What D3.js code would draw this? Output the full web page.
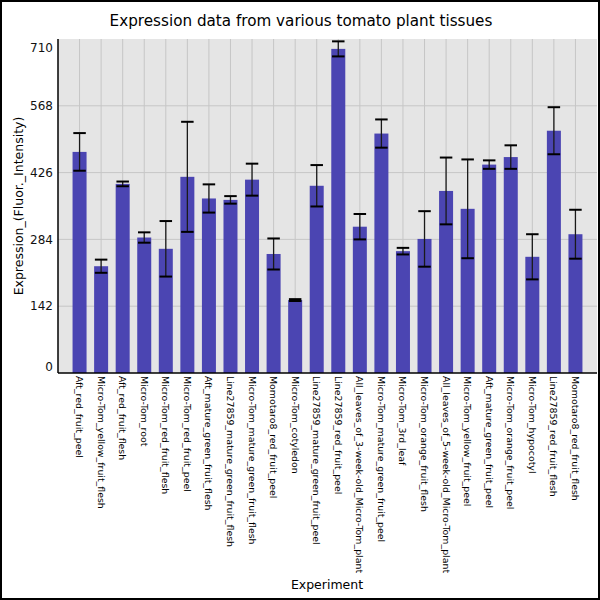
<!DOCTYPE html>
<html>
<head>
<meta charset="utf-8">
<script src="https://cdn.jsdelivr.net/npm/d3@7"></script>
<style>
  body { margin: 0; background: #fff; }
  svg { display: block; font-family: "DejaVu Sans", sans-serif; }
</style>
</head>
<body>
<svg id="chart" width="600" height="600"></svg>
<script>
const experiments = [
  "Aft_red_fruit_peel", "Micro-Tom_yellow_fruit_flesh", "Aft_red_fruit_flesh",
  "Micro-Tom_root", "Micro-Tom_red_fruit_flesh", "Micro-Tom_red_fruit_peel",
  "Aft_mature_green_fruit_flesh", "Line27859_mature_green_fruit_flesh",
  "Micro-Tom_mature_green_fruit_flesh", "Momotaro8_red_fruit_peel",
  "Micro-Tom_cotyledon", "Line27859_mature_green_fruit_peel", "Line27859_red_fruit_peel",
  "All_leaves_of_3-week-old_Micro-Tom_plant", "Micro-Tom_mature_green_fruit_peel",
  "Micro-Tom_3rd_leaf", "Micro-Tom_orange_fruit_flesh",
  "All_leaves_of_5-week-old_Micro-Tom_plant", "Micro-Tom_yellow_fruit_peel",
  "Aft_mature_green_fruit_peel", "Micro-Tom_orange_fruit_peel", "Micro-Tom_hypocotyl",
  "Line27859_red_fruit_flesh", "Momotaro8_red_fruit_flesh"
];
const expression = [470, 227, 402, 288, 264, 417, 371, 368, 411, 253,
  155, 398, 689, 311, 509, 259, 285, 387, 349, 443, 459, 247, 515, 295];
const errors = [40, 14, 5, 11, 59, 117, 30, 8, 34, 33,
  2, 44, 16, 27, 30, 7, 59, 71, 105, 9, 25, 48, 50, 52];
const yTicks = [0, 142, 284, 426, 568, 710];

const svg = d3.select("#chart");
const W = 600, H = 600;

// outer frame
svg.append("rect").attr("x", 1).attr("y", 1).attr("width", W - 2).attr("height", H - 2)
  .attr("fill", "#fff").attr("stroke", "#000").attr("stroke-width", 2);

const mLeft = 58, mRight = 597, mTop = 39, mBottom = 373;

const x = d3.scalePoint().domain(experiments).range([mLeft, mRight]).padding(1);
const y = d3.scaleLinear().domain([0, 710]).range([mBottom, mTop]);

svg.append("rect").attr("x", mLeft).attr("y", mTop)
  .attr("width", mRight - mLeft).attr("height", mBottom - mTop).attr("fill", "#e5e5e5");

// grid
svg.append("g").selectAll("line").data(yTicks.slice(1, -1)).join("line")
  .attr("x1", mLeft).attr("x2", mRight)
  .attr("y1", d => y(d)).attr("y2", d => y(d))
  .attr("stroke", "#c6c6c6").attr("stroke-width", 1);
svg.append("g").selectAll("line").data(experiments).join("line")
  .attr("x1", d => x(d)).attr("x2", d => x(d))
  .attr("y1", mTop).attr("y2", mBottom)
  .attr("stroke", "#c6c6c6").attr("stroke-width", 1);

// bars
const barW = 14;
svg.append("g").selectAll("rect").data(experiments).join("rect")
  .attr("x", d => x(d) - barW / 2)
  .attr("y", (d, i) => y(expression[i]))
  .attr("width", barW)
  .attr("height", (d, i) => y(0) - y(expression[i]))
  .attr("fill", "#4b45b2");

// error bars
const eb = svg.append("g");
const capW = 12.5;
experiments.forEach((d, i) => {
  const hi = y(expression[i] + errors[i]), lo = y(expression[i] - errors[i]);
  eb.append("line").attr("x1", x(d)).attr("x2", x(d)).attr("y1", hi).attr("y2", lo)
    .attr("stroke", "#1a1a1a").attr("stroke-width", 1.3);
  [hi, lo].forEach(v => eb.append("line")
    .attr("x1", x(d) - capW / 2).attr("x2", x(d) + capW / 2)
    .attr("y1", v).attr("y2", v)
    .attr("stroke", "#000").attr("stroke-width", 2));
});

// axes lines
svg.append("line").attr("x1", mLeft).attr("x2", mLeft).attr("y1", mTop).attr("y2", mBottom)
  .attr("stroke", "#000").attr("stroke-width", 1.5);
svg.append("line").attr("x1", mLeft).attr("x2", mRight).attr("y1", mBottom).attr("y2", mBottom)
  .attr("stroke", "#000").attr("stroke-width", 1.5);

// y tick labels (end labels nudged inside the plot)
svg.append("g").selectAll("text").data(yTicks).join("text")
  .attr("x", 53)
  .attr("y", d => d === 710 ? y(d) + 9 : d === 0 ? y(d) - 6 : y(d))
  .attr("dy", "0.35em")
  .attr("text-anchor", "end")
  .attr("font-size", 12)
  .attr("fill", "#111")
  .text(d => d);

// x tick labels
svg.append("g").selectAll("text").data(experiments).join("text")
  .attr("transform", d => `translate(${x(d) - 3.5},376) rotate(90)`)
  .attr("font-size", 9.4)
  .attr("fill", "#000")
  .text(d => d);

svg.append("text").attr("x", 301).attr("y", 26).attr("text-anchor", "middle")
  .attr("font-size", 15.2).attr("fill", "#000")
  .text("Expression data from various tomato plant tissues");

svg.append("text").attr("x", 327).attr("y", 589).attr("text-anchor", "middle")
  .attr("font-size", 12.5).attr("fill", "#000").text("Experiment");

svg.append("text").attr("transform", `translate(23,${(mTop + mBottom) / 2}) rotate(-90)`)
  .attr("text-anchor", "middle").attr("font-size", 12.5).attr("fill", "#000")
  .text("Expression_(Fluor._Intensity)");
</script>
</body>
</html>
